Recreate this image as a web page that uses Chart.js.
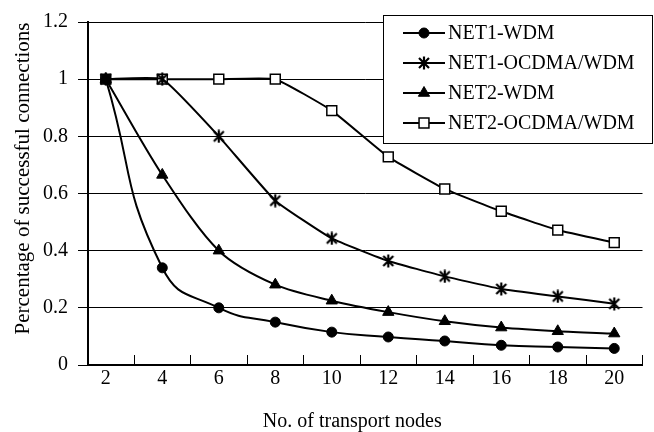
<!DOCTYPE html>
<html><head><meta charset="utf-8">
<script src="https://cdn.jsdelivr.net/npm/chart.js@4"></script>
<style>html,body{margin:0;padding:0;background:#fff}#wrap{width:654px;height:432px;position:relative}</style>
</head><body><div id="wrap"><canvas id="c"></canvas></div>
<script>
const nodes = [2, 4, 6, 8, 10, 12, 14, 16, 18, 20];
const net1Wdm   = [1, 0.34, 0.20, 0.15, 0.115, 0.098, 0.084, 0.069, 0.063, 0.058];
const net1Ocdma = [1, 1, 0.80, 0.575, 0.443, 0.364, 0.31, 0.266, 0.24, 0.214];
const net2Wdm   = [1, 0.665, 0.40, 0.281, 0.225, 0.185, 0.153, 0.131, 0.118, 0.11];
const net2Ocdma = [1, 1, 1, 1, 0.89, 0.728, 0.616, 0.538, 0.472, 0.428];
const seriesNames = ['NET1-WDM', 'NET1-OCDMA/WDM', 'NET2-WDM', 'NET2-OCDMA/WDM'];
const yTicks = [0, 0.2, 0.4, 0.6, 0.8, 1, 1.2];
const xTickMarks = [3, 5, 7, 9, 11, 13, 15, 17, 19, 21];
const xTitle = 'No. of transport nodes';
const yTitle = 'Percentage of successful connections';

const FONT = 'Liberation Serif';

// Excel-like star marker (x plus vertical bar)
function makeStar() {
  const c = document.createElement('canvas');
  c.width = 14; c.height = 14;
  const g = c.getContext('2d');
  g.strokeStyle = '#000'; g.lineWidth = 2.2; g.lineCap = 'butt';
  g.beginPath();
  g.moveTo(2, 2); g.lineTo(12, 12);
  g.moveTo(12, 2); g.lineTo(2, 12);
  g.moveTo(7, 0.5); g.lineTo(7, 13.5);
  g.stroke();
  return c;
}
const starImg = makeStar();

function pts(arr) { return nodes.map((x, i) => ({x: x, y: arr[i]})); }

const common = {borderColor: '#000', borderWidth: 2, fill: false};
const datasets = [
  Object.assign({label: seriesNames[0], data: pts(net1Wdm), tension: 0.5, pointStyle: 'circle', pointRadius: 5, pointBackgroundColor: '#000', pointBorderColor: '#000', pointBorderWidth: 1}, common),
  Object.assign({label: seriesNames[1], data: pts(net1Ocdma), tension: 0.12, pointStyle: starImg, pointRadius: 6, pointBackgroundColor: '#000', pointBorderColor: '#000', pointBorderWidth: 1}, common),
  Object.assign({label: seriesNames[2], data: pts(net2Wdm), tension: 0.3, pointStyle: 'triangle', pointRadius: 6.5, pointBackgroundColor: '#000', pointBorderColor: '#000', pointBorderWidth: 1}, common),
  Object.assign({label: seriesNames[3], data: pts(net2Ocdma), tension: 0.12, pointStyle: 'rect', pointRadius: 7, pointBackgroundColor: '#fff', pointBorderColor: '#000', pointBorderWidth: 1.5}, common)
];

const legendBox = {
  id: 'legendBox',
  afterDraw(chart) {
    const ctx = chart.ctx;
    ctx.save();
    ctx.fillStyle = '#fff';
    ctx.strokeStyle = '#000';
    ctx.lineWidth = 1;
    ctx.fillRect(383.5, 15.5, 269, 128);
    ctx.strokeRect(383.5, 15.5, 269, 128);
    chart.data.datasets.forEach((ds, i) => {
      const y = 33 + i * 30;
      ctx.strokeStyle = '#000';
      ctx.lineWidth = 2;
      ctx.beginPath(); ctx.moveTo(403, y); ctx.lineTo(445, y); ctx.stroke();
      ctx.fillStyle = ds.pointBackgroundColor;
      ctx.strokeStyle = ds.pointBorderColor;
      ctx.lineWidth = ds.pointBorderWidth;
      Chart.helpers.drawPoint(ctx, {pointStyle: ds.pointStyle, radius: ds.pointRadius, borderWidth: ds.pointBorderWidth, rotation: 0}, 424, y);
      ctx.fillStyle = '#000';
      ctx.font = '20px "' + FONT + '"';
      ctx.textAlign = 'left';
      ctx.textBaseline = 'middle';
      ctx.fillText(ds.label, 448, y + 1);
    });
    ctx.restore();
  }
};

const axisTitles = {
  id: 'axisTitles',
  afterDraw(chart) {
    const ctx = chart.ctx;
    const a = chart.chartArea;
    ctx.save();
    ctx.fillStyle = '#000';
    ctx.textAlign = 'center';
    ctx.textBaseline = 'alphabetic';
    ctx.font = '20px "' + FONT + '"';
    ctx.fillText(xTitle, (a.left + a.right) / 2 - 13, a.bottom + 62);
    ctx.font = '21px "' + FONT + '"';
    ctx.translate(29, (a.top + a.bottom) / 2 - 15);
    ctx.rotate(-Math.PI / 2);
    ctx.fillText(yTitle, 0, 0);
    ctx.restore();
  }
};

new Chart(document.getElementById('c'), {
  type: 'line',
  data: {datasets: datasets},
  options: {
    responsive: true,
    maintainAspectRatio: false,
    animation: false,
    events: [],
    layout: {padding: {top: 19, right: 7, left: 0, bottom: 0}},
    plugins: {legend: {display: false}, tooltip: {enabled: false}},
    scales: {
      x: {
        type: 'linear',
        min: 1.37,
        max: 21,
        afterBuildTicks(scale) {
          const vals = nodes.concat(xTickMarks).sort((a, b) => a - b);
          scale.ticks = vals.map(v => ({value: v}));
        },
        afterFit(scale) { scale.height = 67; },
        ticks: {
          autoSkip: false,
          maxRotation: 0,
          padding: 11.5,
          color: '#000',
          font: {family: FONT, size: 20},
          callback: v => (nodes.includes(v) ? String(v) : '')
        },
        grid: {
          drawOnChartArea: false,
          drawTicks: true,
          tickLength: -10,
          lineWidth: 1,
          color: ctx => (ctx.tick && xTickMarks.includes(ctx.tick.value) ? '#000' : 'rgba(0,0,0,0)')
        },
        border: {display: true, color: '#000', width: 2}
      },
      y: {
        min: 0,
        max: 1.2,
        afterBuildTicks(scale) { scale.ticks = yTicks.map(v => ({value: v})); },
        afterFit(scale) { scale.width = 88; },
        ticks: {
          padding: 10,
          color: '#000',
          font: {family: FONT, size: 20},
          callback: v => String(v)
        },
        grid: {color: '#000', lineWidth: 1, tickLength: 10, drawTicks: true},
        border: {display: true, color: '#000', width: 2}
      }
    }
  },
  plugins: [axisTitles, legendBox]
});
</script>
</body></html>
